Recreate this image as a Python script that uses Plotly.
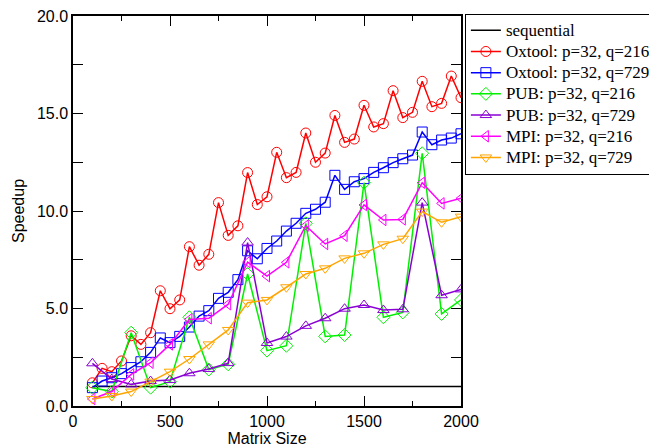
import plotly.graph_objects as go

x50 = list(range(100, 2001, 50))
x100 = list(range(100, 2001, 100))

seq_x = [100, 2000]
seq_y = [1.0, 1.0]

ox216 = [1.19, 1.93, 1.76, 2.31, 3.60, 3.16, 3.76, 5.91, 4.99, 5.44,
         8.17, 7.22, 7.78, 10.43, 8.75, 9.24, 11.97, 10.33, 10.73, 13.01,
         11.71, 11.98, 14.00, 12.50, 12.97, 14.90, 13.52, 13.69, 15.42, 14.31,
         14.48, 16.17, 14.79, 15.06, 16.65, 15.35, 15.52, 16.92, 15.81]

ox729 = [0.94, 1.28, 1.45, 1.66, 1.97, 2.27, 2.75, 3.49, 3.25, 3.57,
         4.05, 4.61, 4.89, 5.52, 5.83, 6.48, 7.96, 7.55, 8.08, 8.46,
         8.97, 9.37, 9.88, 10.09, 10.45, 11.83, 11.11, 11.50, 11.66, 11.98,
         12.22, 12.48, 12.68, 12.87, 14.05, 13.40, 13.64, 13.74, 13.96]

pub216 = [0.94, 0.74, 3.76, 0.94, 1.25, 4.55, 1.87, 2.14, 6.77, 2.84,
          3.09, 9.37, 3.57, 3.64, 11.45, 4.55, 4.80, 12.96, 4.72, 5.44]

pub729 = [2.19, 1.38, 1.11, 1.28, 1.33, 1.68, 1.90, 2.20, 8.38, 3.23,
          3.56, 4.11, 4.50, 4.99, 5.18, 4.92, 4.96, 10.43, 5.68, 5.98]

mpi216 = [0.36, 0.74, 1.62, 2.22, 3.16, 4.44, 4.50, 5.22, 7.38, 6.66,
          7.37, 9.25, 8.31, 8.73, 10.31, 9.54, 9.57, 11.45, 10.39, 10.65]

mpi729 = [0.36, 0.51, 0.74, 1.25, 1.76, 2.41, 3.16, 3.90, 5.30, 5.44,
          6.09, 6.77, 7.06, 7.57, 7.83, 8.29, 8.58, 9.97, 9.42, 9.71]

series = [
    ("sequential", seq_x, seq_y, "black", None),
    ("Oxtool: p=32, q=216", x50, ox216, "#ff0000", "circle-open"),
    ("Oxtool: p=32, q=729", x50, ox729, "#0000ff", "square-open"),
    ("PUB: p=32, q=216", x100, pub216, "#00f000", "diamond-open"),
    ("PUB: p=32, q=729", x100, pub729, "#8a00d4", "triangle-up-open"),
    ("MPI: p=32, q=216", x100, mpi216, "#ff00ff", "triangle-left-open"),
    ("MPI: p=32, q=729", x100, mpi729, "#ffa500", "triangle-down-open"),
]

fig = go.Figure()
for name, xs, ys, col, sym in series:
    label = '<span style="font-size:17px">' + name + '</span>'
    if sym is None:
        fig.add_trace(go.Scatter(x=xs, y=ys, name=label, mode="lines",
                                 line=dict(color=col, width=1.5)))
    else:
        fig.add_trace(go.Scatter(x=xs, y=ys, name=label, mode="lines+markers",
                                 line=dict(color=col, width=1.5),
                                 marker=dict(symbol=sym, size=10, color=col,
                                             line=dict(width=1, color=col))))

axis_common = dict(showline=True, linecolor="black", linewidth=1.5, mirror="ticks",
                   ticks="inside", tickcolor="black", tickwidth=1, ticklen=10,
                   showgrid=False, zeroline=False,
                   tickfont=dict(family="Liberation Sans, Arial", size=16, color="black"))

fig.update_xaxes(range=[0, 2000], tick0=0, dtick=500,
                 minor=dict(ticks="inside", ticklen=5, dtick=250, tickcolor="black", showgrid=False),
                 title=dict(text="Matrix Size", font=dict(family="Liberation Sans, Arial", size=16, color="black"), standoff=0),
                 **axis_common)
fig.update_yaxes(range=[0, 20], tick0=0, dtick=5, tickformat=".1f",
                 minor=dict(ticks="inside", ticklen=10, dtick=2.5, tickcolor="black", showgrid=False),
                 title=dict(text="Speedup", font=dict(family="Liberation Sans, Arial", size=16, color="black"), standoff=8),
                 **axis_common)

fig.update_layout(
    width=649, height=448,
    margin=dict(l=73, r=188, t=16, b=42, autoexpand=False),
    paper_bgcolor="white", plot_bgcolor="white",
    showlegend=True,
    legend=dict(x=1.01, y=1.006, xanchor="left", yanchor="top",
                bordercolor="black", borderwidth=1, bgcolor="white",
                font=dict(family="Liberation Serif, Times New Roman", size=14, color="black"),
                tracegroupgap=0, itemwidth=30),
)

fig.write_html("out.html")
